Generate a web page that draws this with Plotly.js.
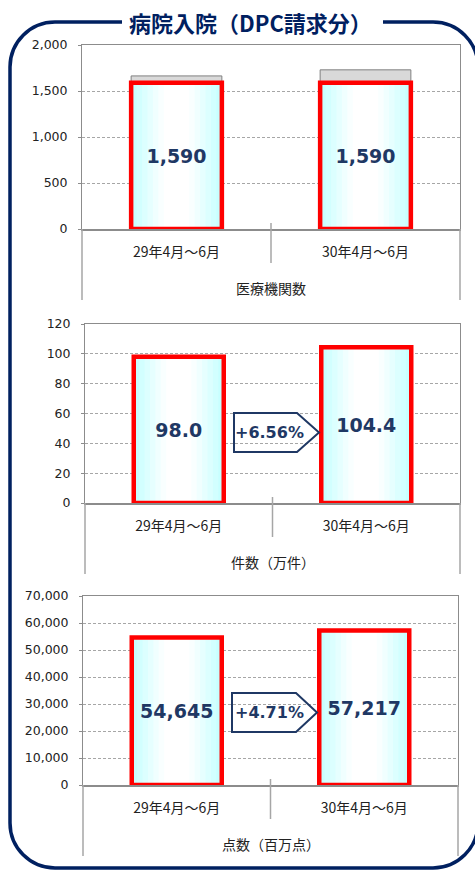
<!DOCTYPE html>
<html><head><meta charset="utf-8">
<script src="https://cdn.plot.ly/plotly-3.0.1.min.js"></script>
<style>html,body{margin:0;padding:0;background:#fff}#chart{width:475px;height:871px}</style>
</head><body><div id="chart"></div>
<script>
// ---- data ----
const categories = ['29年4月～6月', '30年4月～6月'];
const hospitals = [1590, 1590];
const hospitalsTotal = [1664, 1730];
const cases = [98.0, 104.4];
const points = [54645, 57217];
const growthLabels = ['+6.56%', '+4.71%'];
const axisTitles = ['医療機関数', '件数（万件）', '点数（百万点）'];
const chartTitle = '病院入院（DPC請求分）';
const yRanges = [[0, 2000], [0, 120], [0, 70000]];
const yDticks = [500, 20, 10000];
const valueFormats = ['%{y:,}', '%{y:.1f}', '%{y:,}'];

// ---- layout helpers ----
const W = 475, H = 871;
const fx = x => x / W, fy = y => 1 - y / H;
const navy = '#1f3864';
const gridGray = '#a6a6a6';
const lineGray = '#8c8c8c';
const panels = [
  {x0: 82, x1: 460, top: 45, bot: 229},
  {x0: 85, x1: 460, top: 324, bot: 503},
  {x0: 83, x1: 458, top: 596, bot: 785}
];
const seriesList = [hospitals, cases, points];
const barWidth = 0.48;
const gradient = [['#c8ffff', 1], ['#d2ffff', 0.88], ['#dcffff', 0.76], ['#e6ffff', 0.64], ['#f0ffff', 0.52], ['#f9ffff', 0.40], ['#ffffff', 0.28]];

const traces = [];
const layout = {
  width: W, height: H,
  margin: {l: 0, r: 0, t: 0, b: 0},
  paper_bgcolor: '#fff', plot_bgcolor: '#fff',
  barmode: 'overlay', showlegend: false, hovermode: false,
  shapes: [], annotations: []
};

panels.forEach((p, i) => {
  const n = i === 0 ? '' : String(i + 1);
  const xa = 'x' + n, ya = 'y' + n;
  const vals = seriesList[i];
  gradient.forEach(([c, f]) => {
    traces.push({type: 'bar', x: categories, y: vals, width: categories.map(() => barWidth * f),
      marker: {color: c, line: {width: 0}}, xaxis: xa, yaxis: ya, hoverinfo: 'skip'});
  });
  if (i === 0) {
    traces.push({type: 'bar', x: categories, y: hospitalsTotal.map((t, k) => t - hospitals[k]), base: hospitals,
      width: barWidth, marker: {color: '#d9d9d9', line: {color: '#808080', width: 1}}, xaxis: xa, yaxis: ya, hoverinfo: 'skip'});
  }
  traces.push({type: 'bar', x: categories, y: vals, width: barWidth,
    marker: {color: 'rgba(0,0,0,0)', line: {color: '#ff0000', width: 4.5}},
    texttemplate: valueFormats[i], textposition: 'inside', insidetextanchor: 'middle', constraintext: 'none',
    textfont: {family: 'DejaVu Sans', size: 19, color: navy, weight: 'bold'},
    insidetextfont: {family: 'DejaVu Sans', size: 19, color: navy, weight: 'bold'},
    xaxis: xa, yaxis: ya, hoverinfo: 'skip'});

  layout['xaxis' + n] = {
    domain: [fx(p.x0), fx(p.x1)], anchor: ya, type: 'category',
    showline: true, linecolor: lineGray, linewidth: 1.5, mirror: true,
    ticks: '', ticklabelstandoff: 10,
    tickfont: {family: 'Noto Sans CJK JP', size: 14, color: '#222'},
    showgrid: false, zeroline: false, fixedrange: true
  };
  layout['yaxis' + n] = {
    domain: [fy(p.bot), fy(p.top)], anchor: xa,
    range: yRanges[i], dtick: yDticks[i], tick0: 0, tickformat: ',',
    showline: true, linecolor: lineGray, linewidth: 1, mirror: true,
    ticks: 'outside', ticklen: 3, tickcolor: lineGray, ticklabelstandoff: 8,
    tickfont: {family: 'DejaVu Sans', size: 12.5, color: '#222'},
    showgrid: true, gridcolor: gridGray, griddash: '3px,2px', gridwidth: 1,
    zeroline: false, fixedrange: true
  };

  // category box lines
  const sl = {color: gridGray, width: 1.5};
  layout.shapes.push({type: 'line', xref: 'paper', yref: 'paper', x0: fx(p.x0), x1: fx(p.x0), y0: fy(p.bot), y1: fy(p.bot + 71), line: sl});
  layout.shapes.push({type: 'line', xref: 'paper', yref: 'paper', x0: fx(p.x1), x1: fx(p.x1), y0: fy(p.bot), y1: fy(p.bot + 71), line: sl});
  const mid = (p.x0 + p.x1) / 2;
  layout.shapes.push({type: 'line', xref: 'paper', yref: 'paper', x0: fx(mid), x1: fx(mid), y0: fy(p.bot - 6), y1: fy(p.bot + 34), line: sl});

  layout.annotations.push({xref: 'paper', yref: 'paper', x: fx(mid), y: fy(p.bot + 59), text: axisTitles[i], showarrow: false,
    xanchor: 'center', yanchor: 'middle', font: {family: 'Noto Sans CJK JP', size: 14, color: '#222'}});
});

// growth arrows
const arrows = [
  {l: 234, r: 297, tip: 319, t: 413, b: 452},
  {l: 232, r: 296, tip: 317, t: 693, b: 732}
];
arrows.forEach((a, k) => {
  const m = (a.t + a.b) / 2;
  const path = `M ${fx(a.l)} ${fy(a.t)} L ${fx(a.r)} ${fy(a.t)} L ${fx(a.tip)} ${fy(m)} L ${fx(a.r)} ${fy(a.b)} L ${fx(a.l)} ${fy(a.b)} Z`;
  layout.shapes.push({type: 'path', xref: 'paper', yref: 'paper', path: path, line: {color: navy, width: 2}, fillcolor: 'rgba(0,0,0,0)'});
  layout.annotations.push({xref: 'paper', yref: 'paper', x: fx(269), y: fy(m), text: growthLabels[k], showarrow: false,
    xanchor: 'center', yanchor: 'middle', font: {family: 'DejaVu Sans', size: 16, color: navy, weight: 'bold'}});
});

// rounded outer frame with gap for the title
(function () {
  const L = 10, T = 22, R = 478, B = 868, r = 45, k = 0.5523 * r;
  const P = (x, y) => `${fx(x)} ${fy(y)}`;
  const path = [
    'M', P(122, T), 'L', P(L + r, T),
    'C', P(L + r - k, T) + ',', P(L, T + r - k) + ',', P(L, T + r),
    'L', P(L, B - r),
    'C', P(L, B - r + k) + ',', P(L + r - k, B) + ',', P(L + r, B),
    'L', P(R - r, B),
    'C', P(R - r + k, B) + ',', P(R, B - r + k) + ',', P(R, B - r),
    'L', P(R, T + r),
    'C', P(R, T + r - k) + ',', P(R - r + k, T) + ',', P(R - r, T),
    'L', P(383, T)
  ].join(' ');
  layout.shapes.push({type: 'path', xref: 'paper', yref: 'paper', path: path, line: {color: '#002060', width: 3.5}, fillcolor: 'rgba(0,0,0,0)'});
})();

layout.annotations.push({xref: 'paper', yref: 'paper', x: fx(251), y: fy(22), text: chartTitle, showarrow: false,
  xanchor: 'center', yanchor: 'middle', font: {family: 'Noto Sans CJK JP', size: 22, color: '#002060', weight: 'bold'}});

Plotly.newPlot('chart', traces, layout, {displayModeBar: false, staticPlot: true});
</script>
</body></html>
